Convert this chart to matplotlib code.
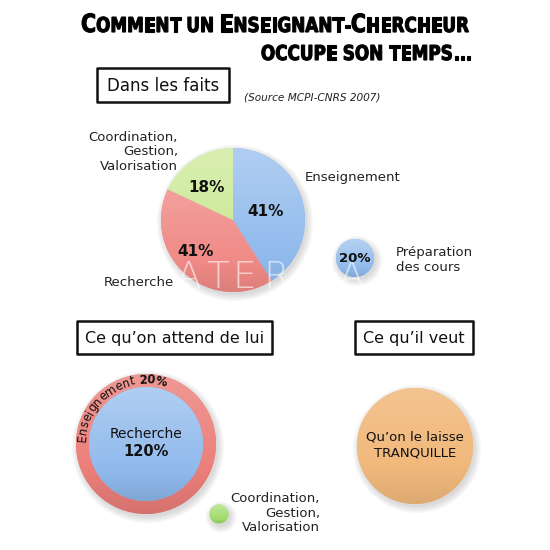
import matplotlib
matplotlib.use('Agg')
import matplotlib.pyplot as plt
import numpy as np
from matplotlib.patches import Rectangle, Circle, PathPatch
from matplotlib.colors import to_rgb
from matplotlib.textpath import TextPath, text_to_path
from matplotlib.font_manager import FontProperties
from matplotlib.transforms import Affine2D

# ---------------- data ----------------
title_line1 = "Comment un Enseignant-Chercheur"
title_line2 = "occupe son temps..."
box_facts = "Dans les faits"
source_note = "(Source MCPI-CNRS 2007)"
fact_labels = ["Enseignement", "Recherche", "Coordination,\nGestion,\nValorisation"]
fact_values = [41, 41, 18]
fact_colors = ["#8fb9ec", "#f08a86", "#c9e891"]
prep_label = "Préparation\ndes cours"
prep_value = 20
box_expect = "Ce qu’on attend de lui"
box_want = "Ce qu’il veut"
expect_labels = ["Recherche", "Enseignement"]
expect_values = [120, 20]
expect_colors = ["#8fb9ec", "#ec7f7b"]
expect_small_label = "Coordination,\nGestion,\nValorisation"
want_label = "Qu’on le laisse\nTRANQUILLE"
want_color = "#f1b97c"
small_green = "#9fdc6a"

W = H = 550
fig = plt.figure(figsize=(5.5, 5.5), dpi=100)
ax = fig.add_axes([0, 0, 1, 1])
ax.axis('off')
R = fig.canvas.get_renderer()


def Y(p):
    return H - p


def shade(patch, color, cx, cy, r, top=0.35, bot=-0.10):
    rgb = np.array(to_rgb(color))
    n = 80
    t = np.linspace(0, 1, n)[:, None, None]
    f = top + (bot - top) * t
    rows = np.where(f >= 0, rgb + (1 - rgb) * f, rgb * (1 + f))
    img = np.repeat(rows, 2, axis=1)
    im = ax.imshow(img, extent=(cx - r, cx + r, cy - r, cy + r), origin='upper',
                   interpolation='bilinear', zorder=patch.get_zorder() + 0.1,
                   aspect='auto')
    im.set_clip_path(patch)


def shadow(cx, cy, r, z=1):
    for k in range(5):
        ax.add_patch(Circle((cx + 2, cy - 3), r + 1.5 * k, color='0.4',
                            alpha=0.05, lw=0, zorder=z))


def ball(cx, cy, r, color, z=3, top=0.35, bot=-0.10):
    shadow(cx, cy, r, z - 1)
    c = Circle((cx, cy), r, facecolor=color, lw=0, zorder=z)
    ax.add_patch(c)
    shade(c, color, cx, cy, r, top, bot)
    return c


def box(x0, y0, x1, y1, text, fs):
    ax.add_patch(Rectangle((x0, Y(y1)), x1 - x0, y1 - y0, facecolor='white',
                           edgecolor='#111111', lw=1.8, zorder=3,
                           joinstyle='round'))
    ax.text((x0 + x1) / 2, Y((y0 + y1) / 2) - 1, text, ha='center', va='center',
            fontsize=fs, color='#111111', zorder=4)


TFP = FontProperties(family='DejaVu Sans', weight='bold')
BIG, SMALL = 25.0, 20.5   # glyph size in px


def sc_glyphs(text):
    out = []
    for ch in text:
        if ch == ' ':
            out.append((None, 0, SMALL * 0.32))
            continue
        size = BIG if ch.isupper() else SMALL
        fp = TFP.copy()
        fp.set_size(size)
        w, h, d = text_to_path.get_text_width_height_descent(ch.upper(), fp, ismath=False)
        out.append((ch.upper(), size, w))
    return out


def sc_width(glyphs):
    return sum(g[2] for g in glyphs)


def smallcaps(x, y, glyphs, sx, ha='center'):
    total = sc_width(glyphs) * sx
    s = x - total / 2 if ha == 'center' else (x - total if ha == 'right' else x)
    for ch, size, w in glyphs:
        if ch is not None:
            tp = TextPath((0, 0), ch, size=size, prop=TFP)
            path = Affine2D().scale(sx, 1).translate(s, Y(y)).transform_path(tp)
            ax.add_patch(PathPatch(path, facecolor='black', edgecolor='black',
                                   lw=0.8, zorder=5))
        s += w * sx


# ---------------- title ----------------
g1 = sc_glyphs(title_line1)
g2 = sc_glyphs(title_line2)
sx = 388 / sc_width(g1)
smallcaps(275, 32, g1, sx, ha='center')
smallcaps(472, 60, g2, sx, ha='right')

# ---------------- Dans les faits ----------------
box(97, 68, 229, 102, box_facts, 12)
ax.text(244, Y(97), source_note, fontsize=7.6, style='italic', color='#222222',
        ha='left', va='center')

pc = (233, Y(220))
pr = 72
shadow(pc[0], pc[1], pr, 1)
wedges, _ = ax.pie(fact_values, colors=fact_colors, startangle=90, counterclock=False,
                   radius=pr, center=pc, wedgeprops=dict(linewidth=0),
                   frame=True)
for w, col in zip(wedges, fact_colors):
    w.set_zorder(3)
    shade(w, col, pc[0], pc[1], pr, top=0.30, bot=-0.08)

pct_pos = [(265, 212), (195, 252), (206, 187)]
for v, (x, y) in zip(fact_values, pct_pos):
    ax.text(x, Y(y), f"{v}%", fontsize=11, fontweight='bold', ha='center',
            va='center', color='#111111', zorder=8)

ax.text(305, Y(178), fact_labels[0], fontsize=9.5, ha='left', va='center', color='#222222')
ax.text(104, Y(283), fact_labels[1], fontsize=9.5, ha='left', va='center', color='#222222')
ax.text(178, Y(152), fact_labels[2], fontsize=9.5, ha='right', va='center',
        color='#222222', linespacing=1.15)

# small prep circle
ball(355, Y(258), 19, fact_colors[0], z=3)
ax.text(355, Y(258), f"{prep_value}%", fontsize=9.5, fontweight='bold', ha='center',
        va='center', color='#111111', zorder=8)
ax.text(396, Y(260), prep_label, fontsize=9.5, ha='left', va='center',
        color='#222222', linespacing=1.15)

# watermark (baseline placed just below the pie labels)
for ch, x in zip("ATERA", [189, 218, 244, 276, 352]):
    ax.text(x, Y(288), ch, fontsize=27, family=['DejaVu Sans'],
            fontweight='light', color='white', alpha=0.6, ha='center',
            va='baseline', zorder=7)

# ---------------- Ce qu'on attend de lui ----------------
box(77, 321, 272, 354, box_expect, 11.5)
box(355, 321, 473, 354, box_want, 11.5)

rc = (146, Y(444))
outer_r, inner_r = 70, 57
ball(rc[0], rc[1], outer_r, expect_colors[1], z=3, top=0.20, bot=-0.10)
ball(rc[0], rc[1], inner_r, expect_colors[0], z=4, top=0.30, bot=-0.10)
ax.text(rc[0], Y(434), expect_labels[0], fontsize=10, ha='center', va='center',
        color='#111111', zorder=6)
ax.text(rc[0], Y(452), f"{expect_values[0]}%", fontsize=10.5, fontweight='bold',
        ha='center', va='center', color='#111111', zorder=6)

# curved label on the ring
arc_r = (outer_r + inner_r) / 2 + 0.5
pieces = [(c, 'normal') for c in expect_labels[1] + " "] + \
         [(c, 'bold') for c in f"{expect_values[1]}%"]
objs = []
for ch, wt in pieces:
    t = ax.text(0, 0, ch, fontsize=8.4, fontweight=wt, color='#111111',
                ha='center', va='center', rotation_mode='anchor', zorder=7)
    w = t.get_window_extent(R).width if ch != ' ' else 3.5
    objs.append((t, w))
theta0 = np.deg2rad(178)
s = 0.0
for t, w in objs:
    th = theta0 - (s + w / 2) / arc_r
    t.set_position((rc[0] + arc_r * np.cos(th), rc[1] + arc_r * np.sin(th)))
    t.set_rotation(np.rad2deg(th) - 90)
    s += w + 0.3

# small green dot
ball(219, Y(514), 9.5, small_green, z=3)
ax.text(320, Y(513), expect_small_label, fontsize=9.5, ha='right', va='center',
        color='#222222', linespacing=1.15)

# ---------------- Ce qu'il veut ----------------
ball(415, Y(446), 58, want_color, z=3, top=0.15, bot=-0.08)
ax.text(415, Y(445), want_label, fontsize=9.5, ha='center', va='center',
        color='#111111', linespacing=1.2, zorder=6)

ax.set_xlim(0, W)
ax.set_ylim(0, H)
ax.set_aspect('auto')
ax.axis('off')
fig.savefig('out.png', dpi=100, facecolor='white')
